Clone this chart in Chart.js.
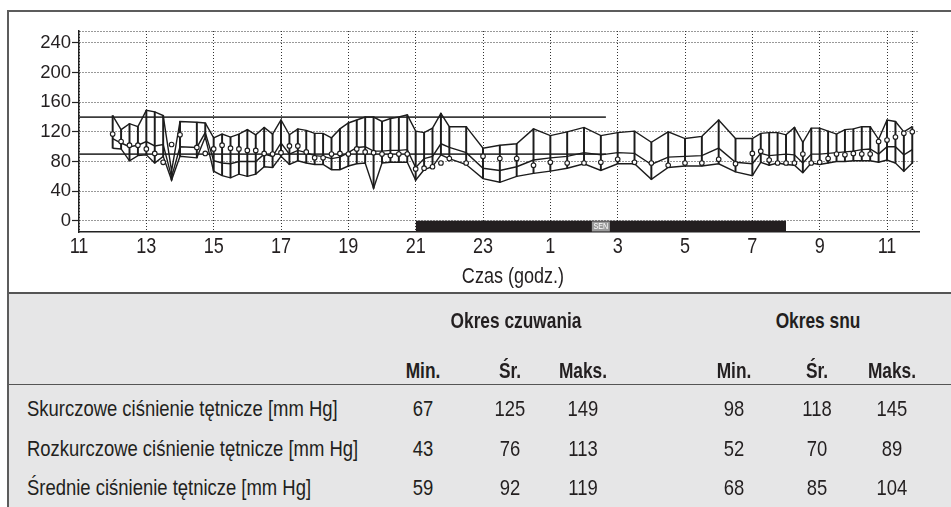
<!DOCTYPE html>
<html><head><meta charset="utf-8">
<script src="https://cdn.jsdelivr.net/npm/chart.js@4.4.1/dist/chart.umd.min.js"></script>
<style>
html,body{margin:0;padding:0;background:#fff;}
body{width:951px;height:507px;position:relative;overflow:hidden;font-family:'Liberation Sans',Arial,sans-serif;color:#231f20;}
#frame{position:absolute;left:7px;top:10px;width:1000px;height:600px;border-left:2px solid #5c5c5c;border-top:2px solid #5c5c5c;}
#chartBox{position:absolute;left:0;top:0;width:951px;height:292px;}
#xtitle{position:absolute;left:413px;width:200px;top:263px;text-align:center;font-size:22px;line-height:26px;transform:scaleX(0.82);transform-origin:center;}
#tbl{position:absolute;left:9px;top:292px;width:942px;height:215px;background:#e6e6e7;border-top:2px solid #555;}
#sep{position:absolute;left:9px;width:942px;top:384px;height:0;border-top:1.5px solid #555;}
.cell{position:absolute;white-space:nowrap;font-size:22.5px;line-height:26px;transform:scaleX(0.82);}
.ctr{text-align:center;width:200px;transform-origin:center;}
.lft{transform-origin:left center;}
.b{font-weight:bold;font-size:22.5px;transform:scaleX(0.77);}
</style></head>
<body>
<div id="tbl"></div>
<div id="sep"></div>
<div id="frame"></div>
<div id="chartBox"><canvas id="c"></canvas></div>
<div id="xtitle">Czas (godz.)</div>
<script>
// ---- data ----
const hours = [12,12.25,12.5,12.75,13,13.25,13.5,13.75,14,14.5,14.75,15,15.25,15.5,15.75,16,16.25,16.5,16.75,17,17.25,17.5,17.75,18,18.25,18.5,18.75,19,19.25,19.5,19.75,20,20.25,20.5,20.75,21,21.25,21.5,21.75,22,22.5,23,23.5,24,24.5,25,25.5,26,26.5,27,27.5,28,28.5,29,29.5,30,30.5,31,31.25,31.5,31.75,32,32.25,32.5,32.75,33,33.25,33.5,33.75,34,34.25,34.5,34.75,35,35.25,35.5,35.75];
const systolic = [142,123,131,127,149,147,142,67,134,133,132,112,117,113,117,123,116,126,117,136,116,124,122,118,118,112,124,132,136,140,140,134,138,140,143,121,119,125,145,127,127,98,102,104,124,115,120,126,115,119,121,106,120,111,114,136,111,111,118,119,119,116,126,106,125,125,121,117,123,124,127,127,110,136,134,120,127];
const diastolic = [98,97,81,88,89,78,87,55,87,85,113,67,61,58,63,60,63,73,72,87,76,81,78,76,76,69,69,74,77,78,44,78,79,79,79,55,69,73,89,84,76,57,52,60,64,67,71,77,68,77,77,56,72,74,74,77,66,61,79,75,78,76,75,65,78,76,78,80,80,81,81,81,79,82,78,67,78];
const meanPressure = [111,105,100,102,107,101,103,59,100,99,119,81,78,77,80,80,80,90,87,105,90,95,92,88,87,84,86,92,99,100,94,94,95,95,96,72,84,87,104,99,92,71,68,73,82,85,87,92,89,92,91,76,86,87,88,98,79,77,91,88,89,90,89,78,90,90,91,92,93,94,96,97,90,100,100,89,96];
const heartRate = [117,107,102,102,97,91,79,103,116,99,91,97,102,98,97,95,95,91,90,92,101,101,93,85,85,90,91,90,97,93,92,90,88,90,90,70,71,73,78,84,78,87,84,84,75,79,78,78,79,83,79,78,75,78,78,83,77,91,94,82,78,78,78,90,78,79,84,90,89,91,90,90,107,109,113,118,120];
const xTickValues = [11,13,15,17,19,21,23,25,27,29,31,33,35];
const xTickLabels = ['11','13','15','17','19','21','23','1','3','5','7','9','11'];
const yTickValues = [0,40,80,120,160,200,240];
const limitValues = [140,90];
const limitRange = [11,26.65];
const sleepRange = [21,32];
const sleepLabel = 'SEN';
const recordEnd = 35.75;

const rowLabels = ['Skurczowe ciśnienie tętnicze [mm Hg]','Rozkurczowe ciśnienie tętnicze [mm Hg]','Średnie ciśnienie tętnicze [mm Hg]'];
const periodTitles = ['Okres czuwania','Okres snu'];
const statTitles = ['Min.','Śr.','Maks.'];
const awakeMin = [67,43,59], awakeAvg = [125,76,92], awakeMax = [149,113,119];
const sleepMin = [98,52,68], sleepAvg = [118,70,85], sleepMax = [145,89,104];

// ---- table ----
function cell(text, cx, cy, cls, left){
  const d = document.createElement('div');
  d.className = 'cell ' + (cls||'');
  d.textContent = text;
  d.style.top = (cy - 13) + 'px';
  if (left) d.style.left = cx + 'px'; else d.style.left = (cx - 100) + 'px';
  document.body.appendChild(d);
}
const periodCenters = [516, 818];
const colCenters = [[423,510,583],[734,817,892]];
const rowY = [409,449,487.5];
periodTitles.forEach((t,i)=>cell(t, periodCenters[i], 321, 'ctr b'));
colCenters.forEach(cols=>cols.forEach((c,j)=>cell(statTitles[j], c, 371, 'ctr b')));
const groups = [[awakeMin,awakeAvg,awakeMax],[sleepMin,sleepAvg,sleepMax]];
rowLabels.forEach((lab,r)=>{
  cell(lab, 27, rowY[r], 'lft', true);
  groups.forEach((g,gi)=>g.forEach((arr,j)=>cell(String(arr[r]), colCenters[gi][j], rowY[r], 'ctr')));
});

// ---- chart ----
const INK = '#1c1c1c';
const pts = arr => hours.map((h,i)=>({x:h,y:arr[i]}));
const overlayPlugin = {
  id:'overlay',
  afterDatasetsDraw(chart){
    const {ctx, scales:{x,y}, chartArea} = chart;
    const cx = (x.getPixelForValue(sleepRange[0]) + x.getPixelForValue(sleepRange[1]))/2;
    const cy = (y.getPixelForValue(0) + chartArea.bottom)/2;
    ctx.save();
    ctx.fillStyle = '#9b9b9b';
    ctx.fillRect(cx-9, cy-5, 18, 10);
    ctx.fillStyle = '#ffffff';
    ctx.font = '9px "Liberation Sans", Arial, sans-serif';
    ctx.textAlign = 'center'; ctx.textBaseline = 'middle';
    ctx.translate(cx, cy+0.5); ctx.scale(0.8,1);
    ctx.fillText(sleepLabel, 0, 0);
    ctx.restore();
  },
  afterDraw(chart){
    const {ctx, scales:{x}, chartArea} = chart;
    ctx.save();
    ctx.fillStyle = '#231f20';
    ctx.font = '22px "Liberation Sans", Arial, sans-serif';
    ctx.textAlign = 'center'; ctx.textBaseline = 'alphabetic';
    xTickValues.forEach((v,i)=>{
      ctx.save();
      ctx.translate(x.getPixelForValue(v), chartArea.bottom + 21);
      ctx.scale(0.82,1);
      ctx.fillText(xTickLabels[i], 0, 0);
      ctx.restore();
    });
    ctx.restore();
  }
};
const lineDs = (arr) => ({type:'line', data:pts(arr), borderColor:INK, borderWidth:1.4, pointRadius:0, tension:0, fill:false, order:2});
new Chart(document.getElementById('c'), {
  type:'line',
  data:{datasets:[
    {type:'line', data:[{x:sleepRange[0],y:0},{x:sleepRange[1],y:0}], fill:'start', backgroundColor:'#231f20', borderWidth:0, pointRadius:0, order:6},
    ...limitValues.map(v=>({type:'line', data:[{x:limitRange[0],y:v},{x:limitRange[1],y:v}], borderColor:'#3c3c3c', borderWidth:1.7, pointRadius:0, fill:false, order:5})),
    {type:'bar', data:hours.map((h,i)=>({x:h,y:[diastolic[i],systolic[i]]})), backgroundColor:INK, barThickness:1.3, borderWidth:0, order:3},
    lineDs(systolic), lineDs(meanPressure), lineDs(diastolic),
    {type:'line', data:pts(heartRate), showLine:false, pointRadius:2.3, pointBackgroundColor:'#fff', pointBorderColor:INK, pointBorderWidth:1.1, order:1}
  ]},
  options:{
    responsive:true, maintainAspectRatio:false, animation:false, devicePixelRatio:1,
    layout:{padding:{left:0,right:32,top:31,bottom:0}},
    plugins:{legend:{display:false}, tooltip:{enabled:false}},
    scales:{
      x:{type:'linear', min:11, max:35.95, offset:false,
        afterBuildTicks:s=>{ s.ticks = xTickValues.map(v=>({value:v})).concat([{value:recordEnd}]); },
        afterFit:s=>{ s.height = 60; },
        ticks:{display:false, autoSkip:false},
        grid:{drawTicks:false, color:'#333', lineWidth:1, offset:false},
        border:{display:true, color:'#222', width:1.5, dash:[1,2]}
      },
      y:{type:'linear', min:-15, max:256,
        afterBuildTicks:s=>{ s.ticks = yTickValues.map(v=>({value:v})).concat([{value:256}]); },
        afterFit:s=>{ s.width = 79; },
        ticks:{padding:1, color:'#231f20',
          font:{family:"'Liberation Sans','Arial',sans-serif", size:18.5},
          callback:(v)=> yTickValues.includes(v) ? String(v) : ''},
        grid:{color:'#333', lineWidth:1, drawTicks:true, tickLength:7, tickWidth:1.2,
          tickColor:(c)=> (c.tick && c.tick.value===256) ? 'rgba(0,0,0,0)' : '#222'},
        border:{display:true, color:'#222', width:1.5, dash:[1,2]}
      }
    }
  },
  plugins:[overlayPlugin]
});
</script>
</body></html>
